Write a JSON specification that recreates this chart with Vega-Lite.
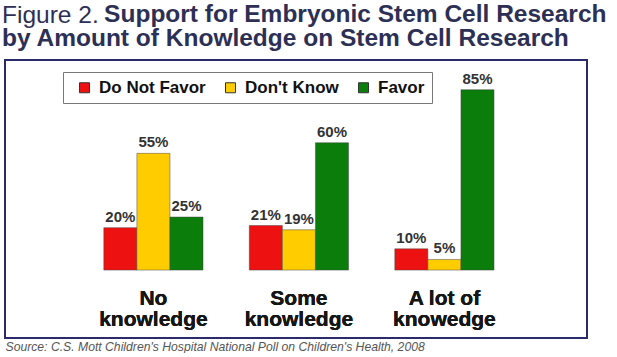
{
  "$schema": "https://vega.github.io/schema/vega-lite/v6.json",
  "width": 582,
  "height": 278,
  "padding": {"left": 2, "top": 2, "right": 0, "bottom": 0},
  "background": "white",
  "config": {
    "font": "Liberation Sans",
    "view": {"stroke": "#2b2a6b", "strokeWidth": 2}
  },
  "title": {
    "text": "Figure 2.",
    "subtitle": ["\u200b\u00a0\u00a0\u00a0\u00a0\u00a0\u00a0\u00a0\u00a0\u00a0\u00a0\u00a0\u00a0\u00a0\u00a0\u00a0Support for Embryonic Stem Cell Research", "by Amount of Knowledge on Stem Cell Research"],
    "anchor": "start",
    "frame": "group",
    "dx": -3,
    "offset": 8,
    "fontSize": 24.5,
    "fontWeight": "normal",
    "color": "#2d3055",
    "lineHeight": 25,
    "subtitleFontSize": 24.5,
    "subtitleFontWeight": "bold",
    "subtitleColor": "#2d3055",
    "subtitleLineHeight": 24,
    "subtitlePadding": -25
  },
  "data": {
    "values": [
      {"knowledge": "No\nknowledge", "response": "Do Not Favor", "share": 0.20},
      {"knowledge": "No\nknowledge", "response": "Don't Know", "share": 0.55},
      {"knowledge": "No\nknowledge", "response": "Favor", "share": 0.25},
      {"knowledge": "Some\nknowledge", "response": "Do Not Favor", "share": 0.21},
      {"knowledge": "Some\nknowledge", "response": "Don't Know", "share": 0.19},
      {"knowledge": "Some\nknowledge", "response": "Favor", "share": 0.60},
      {"knowledge": "A lot of\nknowedge", "response": "Do Not Favor", "share": 0.10},
      {"knowledge": "A lot of\nknowedge", "response": "Don't Know", "share": 0.05},
      {"knowledge": "A lot of\nknowedge", "response": "Favor", "share": 0.85}
    ]
  },
  "encoding": {
    "x": {
      "field": "knowledge",
      "type": "nominal",
      "scale": {"domain": ["No\nknowledge", "Some\nknowledge", "A lot of\nknowedge"], "paddingInner": 0, "paddingOuter": 0.5, "align": 0.52},
      "axis": {
        "labels": false, "ticks": false, "domain": false, "grid": false,
        "title": "Source: C.S. Mott Children's Hospital National Poll on Children's Health, 2008",
        "titleFontStyle": "italic", "titleFontWeight": "normal", "titleColor": "#555555",
        "titleFontSize": 12.2, "titleAnchor": "start", "titleAlign": "left", "titlePadding": 2
      }
    }
  },
  "layer": [
    {
      "mark": {"type": "bar", "stroke": "#444444", "strokeWidth": 0.8, "strokeOpacity": 0.6},
      "encoding": {
        "xOffset": {"field": "response", "type": "nominal", "scale": {"domain": ["Do Not Favor", "Don't Know", "Favor"], "paddingInner": 0, "paddingOuter": 0.7}},
        "y": {"field": "share", "type": "quantitative", "scale": {"domain": [-0.32, 0.99], "nice": false, "zero": false}, "axis": null},
        "color": {
          "field": "response", "type": "nominal",
          "scale": {"domain": ["Do Not Favor", "Don't Know", "Favor"], "range": ["#ee1111", "#ffcc00", "#0b7d0b"]},
          "legend": {
            "orient": "none", "legendX": 58, "legendY": 12, "direction": "horizontal", "title": null,
            "strokeColor": "#777777", "fillColor": "white", "padding": 7,
            "labelFontSize": 17, "labelFontWeight": "bold", "labelColor": "#111111",
            "symbolType": "square", "symbolSize": 100, "symbolStrokeColor": "#333333", "symbolStrokeWidth": 1,
            "symbolOffset": 6, "labelOffset": 6, "columnPadding": 10
          }
        }
      }
    },
    {
      "mark": {"type": "text", "baseline": "alphabetic", "dy": -6, "fontSize": 15, "fontWeight": "bold", "color": "#333333"},
      "encoding": {
        "xOffset": {"field": "response", "type": "nominal"},
        "y": {"field": "share", "type": "quantitative"},
        "text": {"field": "share", "type": "quantitative", "format": ".0%"}
      }
    },
    {
      "mark": {"type": "text", "baseline": "alphabetic", "lineBreak": "\n", "lineHeight": 21, "fontSize": 21, "fontWeight": "bold", "color": "#161616"},
      "encoding": {
        "y": {"datum": -0.165},
        "text": {"field": "knowledge", "type": "nominal"}
      }
    }
  ]
}
